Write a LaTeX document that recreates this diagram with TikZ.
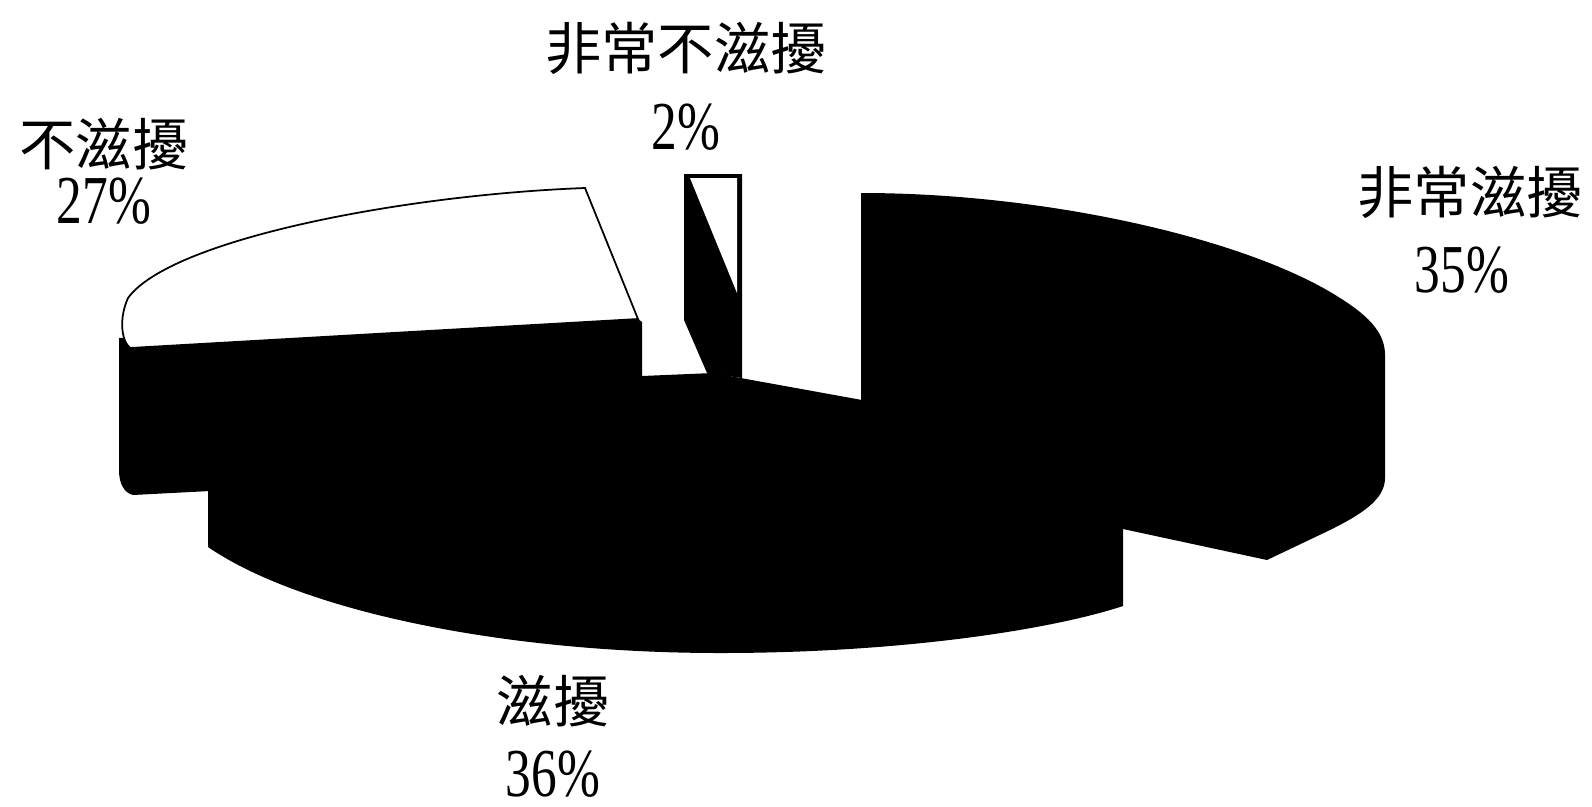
\documentclass[tikz,border=0pt]{standalone}
\usepackage{fontspec}
\newfontfamily\cjk{Noto Sans CJK TC}
\newfontfamily\numfont[FakeStretch=0.75]{Liberation Serif}
\tikzset{
  cjk/.style={font=\cjk\fontsize{16pt}{16pt}\selectfont, inner sep=0pt},
  pct/.style={font=\numfont\fontsize{19.5pt}{19.5pt}\selectfont, inner sep=0pt},
}
\begin{document}
\begin{tikzpicture}[x=0.01cm,y=-0.01cm]
    \fill[white] (0,0) rectangle (1592,806);
    \useasboundingbox (0,0) rectangle (1592,806);
    % 不滋擾 (27%)
    \fill (119,338) -- (119,470) .. controls (119,485) and (125,493) .. (133,495) -- (210,491) -- (642,468) -- (642,322) -- (638,319) -- cycle;
    \draw[fill=white, line width=0.5pt] (130,348) .. controls (121,340) and (119,318) .. (128,298)
        .. controls (170,240) and (400,195) .. (585,188) -- (638,319) -- cycle;
    % 滋擾 (36%)
    \fill (642,376) -- (713,373) -- (862,400) -- (1123,450) -- (1123,606)
        .. controls (1050,630) and (900,653) .. (720,653)
        .. controls (500,653) and (300,610) .. (208,547) -- (208,470) -- (642,400) -- cycle;
    % 非常滋擾 (35%)
    \fill (861,193) .. controls (1050,193) and (1250,240) .. (1340,298)
        .. controls (1372,318) and (1385,335) .. (1385,355) -- (1385,478)
        .. controls (1385,500) and (1360,515) .. (1330,530) -- (1267,560) -- (1123,529) -- (861,470) -- cycle;
    % 非常不滋擾 (2%)
    \fill (684,174) -- (742,174) -- (742,378) -- (707,373) -- (684,320) -- cycle;
    \fill[white] (690,178) -- (737,178) -- (737,293) -- cycle;
    % labels
    \node[cjk] (lblvery) at (686,48) {非常不滋擾};
    \node[pct] (pctvery) at (686,127) {2\%};
    \node[cjk] (lblnot) at (104,144) {不滋擾};
    \node[pct] (pctnot) at (104,201) {27\%};
    \node[cjk] (lblmuch) at (1470,192) {非常滋擾};
    \node[pct] (pctmuch) at (1462,270) {35\%};
    \node[cjk] (lbldist) at (553,701) {滋擾};
    \node[pct] (pctdist) at (553,774) {36\%};
\end{tikzpicture}
\end{document}
